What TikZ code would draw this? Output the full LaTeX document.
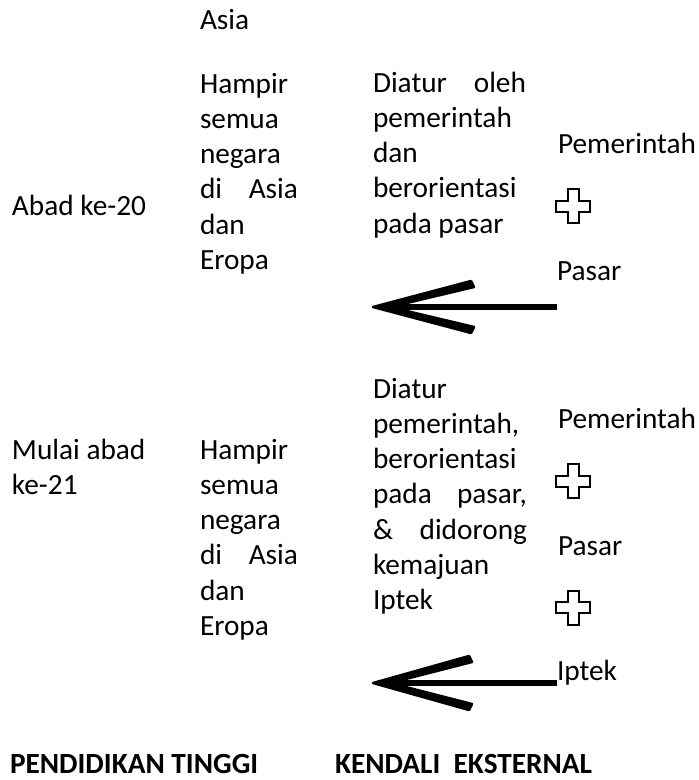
\documentclass[tikz,border=0pt]{standalone}
\usepackage{fontspec}
\setmainfont{Carlito}
\newcommand\cf{\fontsize{29.3}{35.3}\selectfont}
\tikzset{
  txt/.style={anchor=base west, inner sep=0pt, outer sep=0pt, font=\cf},
  boldtxt/.style={txt, font=\cf\bfseries},
  plussign/.pic={\draw[line width=2pt, fill=white, line join=miter]
     (-5.5,-17) -- (5.5,-17) -- (5.5,-5.5) -- (17,-5.5) -- (17,5.5) -- (5.5,5.5)
     -- (5.5,17) -- (-5.5,17) -- (-5.5,5.5) -- (-17,5.5) -- (-17,-5.5) -- (-5.5,-5.5) -- cycle;},
  shaft/.style={line width=5.5pt},
  barb/.style={fill=black, draw=black, line width=2.5pt, line join=round},
}
\begin{document}
\begin{tikzpicture}[x=1pt,y=-1pt]
\useasboundingbox (0,0) rectangle (699,780);

% upper row
\node[txt] (asia) at (200,29) {Asia};
\node[txt] (abad20) at (12,215) {Abad ke-20};
\node[txt] (neg1) at (200,93) {\parbox[t]{160pt}{Hampir\\semua\\negara\\\makebox[98pt][l]{di\hfill Asia}\\dan\\Eropa}};
\node[txt] (atur1) at (373,92) {\parbox[t]{170pt}{\makebox[153pt][l]{Diatur\hfill oleh}\\pemerintah\\dan\\berorientasi\\pada pasar}};
\node[txt] (pem1) at (558,153) {Pemerintah};
\pic at (573,206) {plussign};
\node[txt] (pas1) at (557,280) {Pasar};
\coordinate (a1start) at (557,307);
\coordinate (a1tip) at (373,307);
\draw[shaft] (a1start) -- ([xshift=20pt]a1tip);
\draw[barb] (a1tip) -- ++(98,-26) -- ++(3,6) -- ++(-84,20) -- ++(84,20) -- ++(-3,6) -- cycle;

% lower row
\node[txt] (abad21) at (12,459) {\parbox[t]{170pt}{Mulai abad\\ke-21}};
\node[txt] (neg2) at (200,459) {\parbox[t]{160pt}{Hampir\\semua\\negara\\\makebox[98pt][l]{di\hfill Asia}\\dan\\Eropa}};
\node[txt] (atur2) at (373,398) {\parbox[t]{170pt}{Diatur\\pemerintah,\\berorientasi\\\makebox[154pt][l]{pada\hfill pasar,}\\\makebox[154pt][l]{\&\hfill didorong}\\kemajuan\\Iptek}};
\node[txt] (pem2) at (558,428) {Pemerintah};
\pic at (573,481) {plussign};
\node[txt] (pas2) at (558,555) {Pasar};
\pic at (573,607.5) {plussign};
\node[txt] (ipt) at (557,680) {Iptek};
\coordinate (a2start) at (557,683);
\coordinate (a2tip) at (373,683);
\draw[shaft] (a2start) -- ([xshift=20pt]a2tip);
\draw[barb] (a2tip) -- ++(96,-27) -- ++(3,6) -- ++(-82,21) -- ++(82,21) -- ++(-3,6) -- cycle;

% bottom labels
\node[boldtxt] (pt) at (10,773) {PENDIDIKAN TINGGI};
\node[boldtxt] (ke) at (335,773) {KENDALI\ \ EKSTERNAL};
\end{tikzpicture}
\end{document}
